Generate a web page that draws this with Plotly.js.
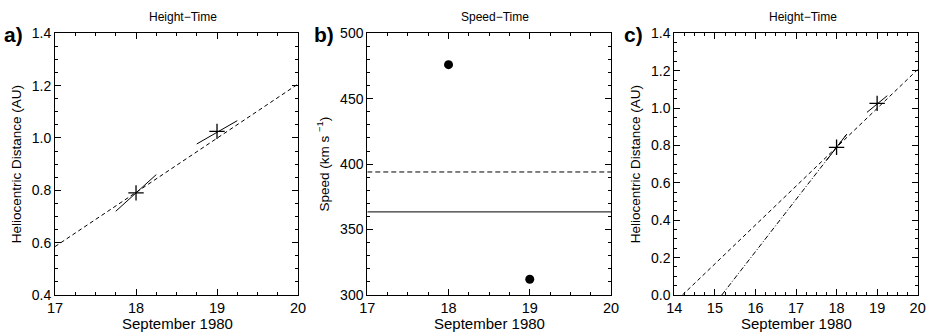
<!DOCTYPE html>
<html><head><meta charset="utf-8">
<script src="https://cdn.plot.ly/plotly-3.0.1.min.js"></script>
<style>html,body{margin:0;padding:0;background:#fff}#c{width:931px;height:336px}</style>
</head><body><div id="c"></div>
<script>
// Panel a / c: observed heights (crosses)
const obsDays = [18, 19];
const obsHeight = [0.79, 1.025];
// local speed segments around each observation
const seg1X = [17.75, 18.25], seg1Y = [0.72, 0.86];
const seg2X = [18.75, 19.25], seg2Y = [0.977, 1.066];
// mean-speed fit line (dashed)
const fitAX = [17, 20], fitAY = [0.585, 1.206];
const fitCX = [14.2, 20], fitCY = [0.0, 1.206];
// dash-dot extrapolation in panel c
const ddX = [15.17, 18.25], ddY = [0.0, 0.86];
// Panel b: speeds
const spDays = [18, 19];
const spVals = [476, 312];
const lineDashed = 394, lineSolid = 363.5;
const spanB = [17, 20];

const font = 'Liberation Sans, Arial, Helvetica, sans-serif';
const blk = '#000';
function tr(x, y, xa, ya, dash, w) {
  return {x, y, xaxis: xa, yaxis: ya, mode: 'lines', line: {color: blk, width: w || 1, dash: dash || 'solid'}, showlegend: false, hoverinfo: 'skip'};
}
function cross(xa, ya) {
  return {x: obsDays, y: obsHeight, xaxis: xa, yaxis: ya, mode: 'markers',
    marker: {symbol: 'cross-thin', size: 11, line: {color: blk, width: 1.3}}, showlegend: false};
}
const data = [
  tr(fitAX, fitAY, 'x', 'y', '4px,3px'),
  tr(seg1X, seg1Y, 'x', 'y'),
  tr(seg2X, seg2Y, 'x', 'y'),
  cross('x', 'y'),
  tr(spanB, [lineDashed, lineDashed], 'x2', 'y2', '5px,3px'),
  tr(spanB, [lineSolid, lineSolid], 'x2', 'y2'),
  {x: spDays, y: spVals, xaxis: 'x2', yaxis: 'y2', mode: 'markers', marker: {symbol: 'circle', size: 9, color: blk}, showlegend: false},
  tr(fitCX, fitCY, 'x3', 'y3', '4px,3px'),
  tr(ddX, ddY, 'x3', 'y3', '5px,2px,1px,2px'),
  tr(seg1X, seg1Y, 'x3', 'y3'),
  tr(seg2X, seg2Y, 'x3', 'y3'),
  cross('x3', 'y3')
];
function ax(domain, range, dtick, minorDtick, anchor, fs, extra) {
  return Object.assign({
    domain, range, dtick, tick0: range[0], anchor, showgrid: false, zeroline: false,
    showline: true, linecolor: blk, linewidth: 1, mirror: 'allticks',
    ticks: 'inside', ticklen: 6, tickcolor: blk, tickwidth: 1,
    tickfont: {family: font, size: fs, color: blk},
    minor: {dtick: minorDtick, ticks: 'inside', ticklen: 3, tickcolor: blk, tickwidth: 1, showgrid: false}
  }, extra || {});
}
const yd = [0.122, 0.901];
const hTitle = {text: 'Heliocentric Distance (AU)', font: {family: font, size: 13.5, color: blk}, standoff: 7};
const layout = {
  width: 931, height: 336, margin: {l: 0, r: 0, t: 0, b: 0},
  paper_bgcolor: '#fff', plot_bgcolor: '#fff',
  xaxis: ax([0.0591, 0.3201], [17, 20], 1, 0.25, 'y', 14.5),
  yaxis: ax(yd, [0.4, 1.4], 0.2, 0.05, 'x', 14, {title: hTitle, tickformat: '.1f'}),
  xaxis2: ax([0.3945, 0.6563], [17, 20], 1, 0.25, 'y2', 14.5),
  yaxis2: ax(yd, [300, 500], 50, 10, 'x2', 14, {title: {text: 'Speed (km s <sup>−1</sup>)', font: {family: font, size: 13.5, color: blk}, standoff: 7}}),
  xaxis3: ax([0.7243, 0.9857], [14, 20], 1, 0.25, 'y3', 14.5),
  yaxis3: ax(yd, [0, 1.4], 0.2, 0.05, 'x3', 14, {title: hTitle, tickformat: '.1f'}),
  annotations: [
    {text: '<b>a)</b>', x: 3, y: 35},
    {text: '<b>b)</b>', x: 313, y: 35},
    {text: '<b>c)</b>', x: 623, y: 35},
    {text: 'Height−Time', x: 183, y: 17, size: 12},
    {text: 'Speed−Time', x: 495, y: 17, size: 12},
    {text: 'Height−Time', x: 803, y: 17, size: 12},
    {text: 'September 1980', x: 177, y: 323, size: 15},
    {text: 'September 1980', x: 489, y: 323, size: 15},
    {text: 'September 1980', x: 796, y: 323, size: 15}
  ].map(a => ({
    text: a.text, xref: 'paper', yref: 'paper', x: a.x / 931, y: 1 - a.y / 336,
    xanchor: a.size ? 'center' : 'left', yanchor: 'middle', showarrow: false, borderpad: 0,
    font: {family: font, size: a.size || 21, color: blk}
  }))
};
Plotly.newPlot('c', data, layout, {staticPlot: true});
</script></body></html>
